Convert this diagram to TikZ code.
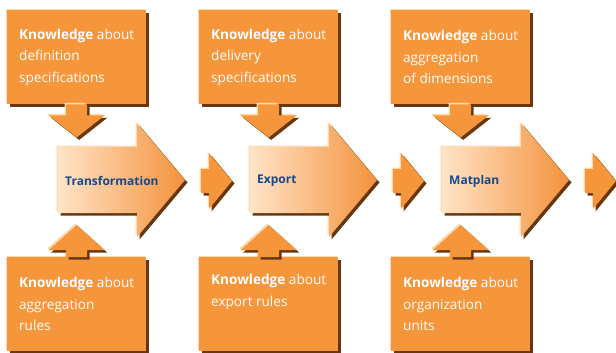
\documentclass[tikz,border=0pt]{standalone}
\usepackage{fontspec}
\setmainfont{Open Sans}
\usetikzlibrary{shadows}

\definecolor{kborange}{RGB}{246,150,58}
\definecolor{kbbrown}{RGB}{105,55,15}
\definecolor{kblight}{RGB}{253,218,180}
\definecolor{kbpeach}{RGB}{255,228,200}
\definecolor{kbdeep}{RGB}{243,146,60}
\definecolor{kbblue}{RGB}{22,72,140}

\newcommand{\stepshape}{(0,0) -- (79,0) -- (79,-24) -- (127,33) -- (79,90) -- (79,66) -- (0,66) -- cycle}

\tikzset{
  bevel/.style={general shadow={fill=kblight, shadow xshift=-1.5pt, shadow yshift=1.5pt},
                general shadow={fill=kbbrown, shadow xshift=2.5pt, shadow yshift=-2.5pt}},
  knowbox/.style={bevel, rectangle, fill=kborange, text=white, align=left, anchor=north west,
                  minimum width=139pt, minimum height=94pt, inner sep=0pt,
                  font=\fontsize{13.6}{21.5}\selectfont},
  blockarr/.style={bevel, fill=kborange},
  bigstep/.pic={
     \fill[kblight, shift={(-1.5,-1.5)}] \stepshape;
     \fill[kbbrown, shift={(2.5,2.5)}] \stepshape;
     \shade[left color=kbpeach, right color=kbdeep] \stepshape;
  },
  steptext/.style={anchor=west, text=kbblue, inner sep=0pt,
                   font=\fontsize{12}{14}\selectfont\bfseries}
}

\begin{document}
\begin{tikzpicture}[x=1pt, y=-1pt]
   \useasboundingbox (0,0) rectangle (616,353);
   % knowledge boxes
   \node[knowbox] (defspec)  at (7,10)   {\textbf{Knowledge} about\\definition\\specifications};
   \node[knowbox] (delspec)  at (199,10) {\textbf{Knowledge} about\\delivery\\specifications};
   \node[knowbox] (aggdim)   at (391,10) {\textbf{Knowledge} about\\aggregation\\of dimensions};
   \node[knowbox] (aggrules) at (7,257)  {\textbf{Knowledge} about\\aggregation\\rules};
   \node[knowbox] (exprules) at (199,257){\textbf{Knowledge} about\\export rules\\\strut};
   \node[knowbox] (orgunits) at (391,257){\textbf{Knowledge} about\\organization\\units};
   % big steps
   \pic at (58,147) {bigstep};
   \pic at (250,147) {bigstep};
   \pic at (442,147) {bigstep};
   \node[steptext] (trans)   at (65,181)  {Transformation};
   \node[steptext] (export)  at (257,181) {Export};
   \node[steptext] (matplan) at (449,181) {Matplan};
   % small arrows in between
   \path[blockarr] (201,169) -- ++(8,0) -- ++(0,-16) -- ++(23,28) -- ++(-23,28) -- ++(0,-16) -- ++(-8,0) -- cycle;
   \path[blockarr] (393,169) -- ++(8,0) -- ++(0,-16) -- ++(23,28) -- ++(-23,28) -- ++(0,-16) -- ++(-8,0) -- cycle;
   \path[blockarr] (585,169) -- ++(8,0) -- ++(0,-16) -- ++(23,28) -- ++(-23,28) -- ++(0,-16) -- ++(-8,0) -- cycle;
   % down arrows
   \path[blockarr] (defspec.south) ++(-10.5,0) -- ++(0,11) -- ++(-17.5,0) -- ++(28,22) -- ++(28,-22) -- ++(-17.5,0) -- ++(0,-11) -- cycle;
   \path[blockarr] (delspec.south) ++(-10.5,0) -- ++(0,11) -- ++(-17.5,0) -- ++(28,22) -- ++(28,-22) -- ++(-17.5,0) -- ++(0,-11) -- cycle;
   \path[blockarr] (aggdim.south) ++(-10.5,0) -- ++(0,11) -- ++(-17.5,0) -- ++(28,22) -- ++(28,-22) -- ++(-17.5,0) -- ++(0,-11) -- cycle;
   % up arrows
   \path[blockarr] (aggrules.north) ++(-10.5,0) -- ++(0,-7) -- ++(-17.5,0) -- ++(28,-25) -- ++(28,25) -- ++(-17.5,0) -- ++(0,7) -- cycle;
   \path[blockarr] (exprules.north) ++(-10.5,0) -- ++(0,-7) -- ++(-17.5,0) -- ++(28,-25) -- ++(28,25) -- ++(-17.5,0) -- ++(0,7) -- cycle;
   \path[blockarr] (orgunits.north) ++(-10.5,0) -- ++(0,-7) -- ++(-17.5,0) -- ++(28,-25) -- ++(28,25) -- ++(-17.5,0) -- ++(0,7) -- cycle;
\end{tikzpicture}
\end{document}
